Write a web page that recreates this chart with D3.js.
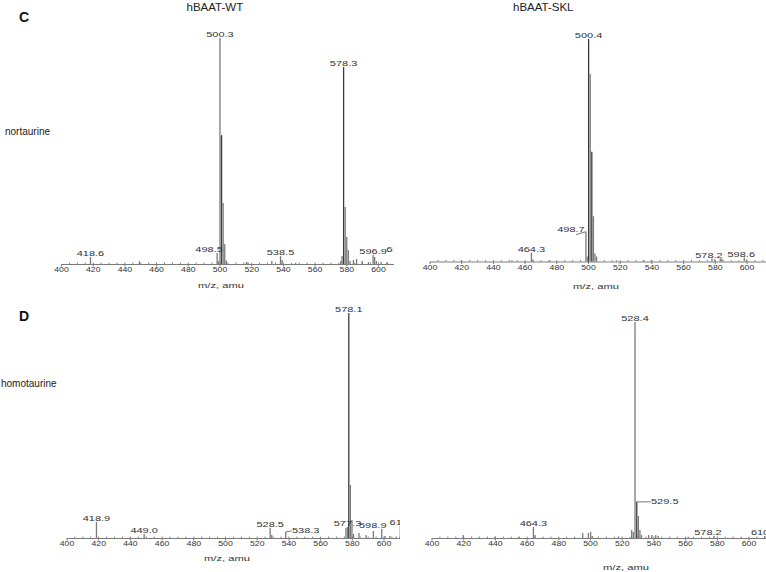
<!DOCTYPE html>
<html>
<head>
<meta charset="utf-8" />
<title>nortaurine / homotaurine spectra</title>
<script src="https://cdn.jsdelivr.net/npm/d3@7/dist/d3.min.js"></script>
<style>
body { margin: 0; background: #fff; font-family: Arial, "Liberation Sans", sans-serif; }
svg text { font-family: Arial, "Liberation Sans", sans-serif; }
</style>
</head>
<body>
<svg width="766" height="572"></svg>
<script>

// relative intensity (% of panel full scale) for each m/z line
var peaksC_WT = [[418.6,3.1],[449.5,1.2],[498.5,4.9],[499.3,1.3],[500.3,100],[501.3,57],[502.3,27],
                 [503.3,8.8],[504.3,1.5],[517,0.9],[518,0.7],[533,1.3],[538.5,3.5],[539.5,1.8],
                 [548,0.5],[576.5,1.3],[577.3,3.5],[578.3,87.2],[579.3,25.2],[580.3,12],[581.3,6.2],
                 [582.3,1.3],[584.5,1.8],[586.5,2.2],[590,1.3],[594,0.9],[596.9,4],[597.9,3.1],
                 [599,1.3],[602,0.9],[606,0.7],[611,5]];
var labelsC_WT = [418.6, 498.5, 500.3, 538.5, 578.3, 596.9, 611];

var peaksC_SKL = [[420,0.5],[452,0.5],[464.3,3.9],[465.3,0.9],[476,0.5],[498.7,13.2],[499.5,2.2],
                  [500.4,98.5],[501.4,83],[502.4,48.6],[503.4,20],[504.4,3.5],[505.4,2.2],[518,0.5],
                  [535,0.7],[540,0.7],[578.2,1.3],[580,0.9],[583.5,1.3],[584.5,1.3],[598.6,1.8],[600,0.9]];
var labelsC_SKL = [464.3, 498.7, 500.4, 578.2, 598.6];

var peaksD_WT = [[418.9,7.1],[449.0,1.8],[528.5,4.4],[529.5,1.3],[538.3,2.7],[576.3,4.4],[577.3,4.9],
                 [578.1,99.6],[579.1,23.5],[580.1,8],[581.1,1.8],[584.5,2.2],[589,1.3],[593.6,3.1],
                 [598.9,4],[601,0.9],[604,0.9],[608,0.7],[610.6,5.3]];
var labelsD_WT = [418.9, 449.0, 528.5, 538.3, 577.3, 578.1, 598.9, 610.6];

var peaksD_SKL = [[420,1.3],[440,0.5],[455,0.5],[464.3,4.9],[465.3,1.3],[495.4,2.2],[499,2.2],
                  [500.4,2.7],[501.4,0.9],[518,0.7],[526.3,3.5],[527.3,2.7],[528.4,95.6],[529.5,16],
                  [530.5,9.7],[531.5,3.5],[532.5,1.3],[537,1.3],[539,1.3],[541.5,1.3],[543,0.9],
                  [562,0.5],[578.2,0.9],[610.2,0.9]];
var labelsD_SKL = [464.3, 528.4, 529.5, 578.2, 610.2];

var mzDomain = [400, 612];

// panel layout
var v_Panels = [
	{id:"cwt",  peaks:peaksC_WT,  labels:labelsC_WT,  left:61,    base:264,   titleX:221, titleY:288, clipR:394},
	{id:"cskl", peaks:peaksC_SKL, labels:labelsC_SKL, left:429.5, base:261.5, titleX:596, titleY:288.5, clipR:766},
	{id:"dwt",  peaks:peaksD_WT,  labels:labelsD_WT,  left:66.5,  base:538,   titleX:227, titleY:561, clipR:400},
	{id:"dskl", peaks:peaksD_SKL, labels:labelsD_SKL, left:431.5, base:538,   titleX:626, titleY:569.5, clipR:766}
];

// label offsets (dx, dy) and leader lines
var v_Nudge = {
	"cwt:498.5":  {dx:-8,  dy:0},
	"cwt:611":    {dx:4.5, dy:0},
	"cskl:498.7": {dx:-15, dy:1.5, leader:"left"},
	"cskl:598.6": {dx:-3,  dy:0},
	"cskl:578.2": {dx:-3,  dy:0},
	"dwt:538.3":  {dx:20,  dy:2, leader:"right"},
	"dwt:598.9":  {dx:-9,  dy:0},
	"dwt:610.6":  {dx:3,   dy:0},
	"dskl:529.5": {dx:28,  dy:3, leader:"right"},
	"dskl:578.2": {dx:-6,  dy:0}
};

var svg = d3.select("svg");
var fullPx = 226;      // 100 % height
var pxPerMz = 1.585;

svg.append("text").attr("x", 19).attr("y", 21.7).attr("font-size", 14).attr("font-weight", "bold").attr("fill", "#111").text("C");
svg.append("text").attr("x", 19).attr("y", 320.7).attr("font-size", 14).attr("font-weight", "bold").attr("fill", "#111").text("D");
svg.append("text").attr("x", 186.5).attr("y", 10.7).attr("font-size", 11.5).attr("fill", "#222").text("hBAAT-WT");
svg.append("text").attr("x", 513).attr("y", 10.7).attr("font-size", 11.5).attr("fill", "#222").text("hBAAT-SKL");
svg.append("text").attr("x", 5).attr("y", 135).attr("font-size", 10).attr("fill", "#222").text("nortaurine");
svg.append("text").attr("x", 1).attr("y", 387).attr("font-size", 10).attr("fill", "#222").text("homotaurine");

var defs = svg.append("defs");

v_Panels.forEach(function(p)
{
	var x = d3.scaleLinear().domain(mzDomain).range([p.left, p.left + (mzDomain[1] - mzDomain[0]) * pxPerMz]);
	var y = d3.scaleLinear().domain([0, 100]).range([p.base, p.base - fullPx]);

	defs.append("clipPath").attr("id", "clip-" + p.id)
		.append("rect")
		.attr("x", p.left - 20).attr("y", p.base - 245)
		.attr("width", p.clipR - p.left + 20).attr("height", 270);

	var g = svg.append("g").attr("clip-path", "url(#clip-" + p.id + ")");

	// minor ticks
	g.append("g")
		.attr("transform", "translate(0," + p.base + ")")
		.call(d3.axisBottom(x).tickValues(d3.range(405, 612, 5)).tickSize(-1.5).tickFormat(""))
		.call(function(a) { a.select(".domain").remove(); a.selectAll("line").attr("stroke", "#888"); });

	// main axis
	var ax = g.append("g")
		.attr("transform", "translate(0," + p.base + ")")
		.call(d3.axisBottom(x).tickValues(d3.range(400, 612, 20)).tickSize(2.5).tickSizeOuter(0));
	ax.select(".domain").attr("stroke", "#7a7a7a");
	ax.selectAll(".tick line").attr("stroke", "#7a7a7a");
	ax.selectAll(".tick text")
		.attr("y", 2.4).attr("dy", "0.71em")
		.attr("font-size", 8).attr("fill", "#333")
		.attr("textLength", 14.5).attr("lengthAdjust", "spacingAndGlyphs");

	// peaks
	g.selectAll("line.peak").data(p.peaks).enter().append("line")
		.attr("class", "peak")
		.attr("x1", function(d) { return x(d[0]); })
		.attr("x2", function(d) { return x(d[0]); })
		.attr("y1", y(0))
		.attr("y2", function(d) { return y(d[1]); })
		.attr("stroke", function(d, i) { return d[1] > 15 && i % 2 == 1 ? "#3a3a3a" : "#7a7a7a"; })
		.attr("stroke-width", 1.3);

	// peak labels
	var v_Lab = p.labels.map(function(mz)
	{
		var pk = p.peaks.find(function(d) { return d[0] === mz; });
		var n = v_Nudge[p.id + ":" + mz] || {dx:0, dy:0};
		return {mz:mz, val:pk[1], n:n};
	});

	g.selectAll("text.lab").data(v_Lab).enter().append("text")
		.attr("class", "lab")
		.attr("x", function(d) { return x(d.mz) + d.n.dx; })
		.attr("y", function(d) { return y(d.val) - 0.8 + d.n.dy; })
		.attr("text-anchor", "middle")
		.attr("font-size", 7.8).attr("fill", "#333")
		.attr("textLength", 27.5).attr("lengthAdjust", "spacingAndGlyphs")
		.text(function(d) { return d.mz.toFixed(1); });

	g.selectAll("line.leader").data(v_Lab.filter(function(d) { return d.n.leader; })).enter().append("line")
		.attr("class", "leader")
		.attr("x1", function(d) { return x(d.mz); })
		.attr("y1", function(d) { return y(d.val); })
		.attr("x2", function(d) { return x(d.mz) + d.n.dx + (d.n.leader == "left" ? 5 : -14); })
		.attr("y2", function(d) { return y(d.val) + d.n.dy - (d.n.leader == "left" ? -1.5 : 3); })
		.attr("stroke", "#555").attr("stroke-width", 0.8);

	svg.append("text")
		.attr("x", p.titleX).attr("y", p.titleY)
		.attr("text-anchor", "middle")
		.attr("font-size", 7.8).attr("fill", "#333")
		.attr("textLength", 46).attr("lengthAdjust", "spacingAndGlyphs")
		.text("m/z, amu");
});

</script>
</body>
</html>
